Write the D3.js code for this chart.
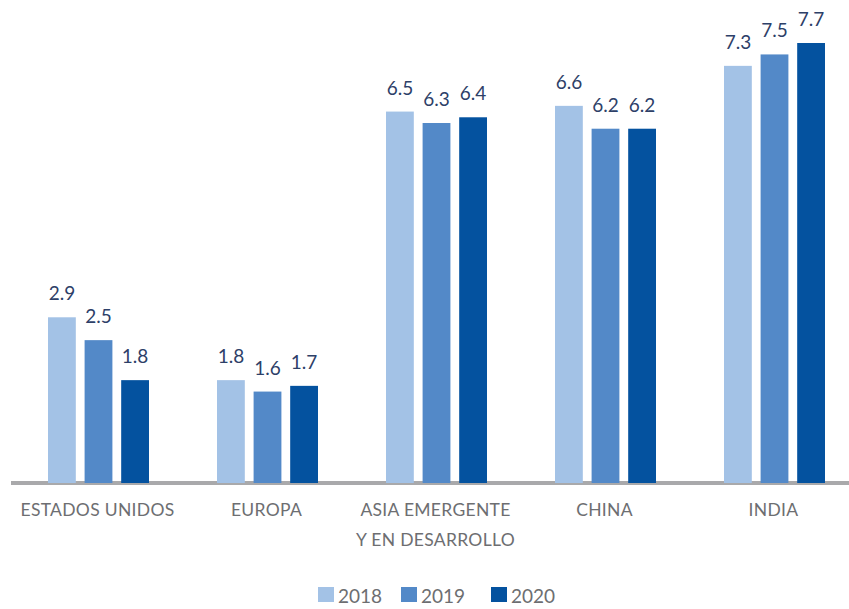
<!DOCTYPE html>
<html>
<head>
<meta charset="utf-8">
<script src="https://cdn.jsdelivr.net/npm/d3@7"></script>
<style>
  body { margin: 0; background: #fff; }
  text { font-family: Lato, "Open Sans", sans-serif; }
</style>
</head>
<body>
<div id="chart"></div>
<script>
// data
var categories = ["ESTADOS UNIDOS", "EUROPA", "ASIA EMERGENTE|Y EN DESARROLLO", "CHINA", "INDIA"];
var years = ["2018", "2019", "2020"];
var v2018 = [2.9, 1.8, 6.5, 6.6, 7.3];
var v2019 = [2.5, 1.6, 6.3, 6.2, 7.5];
var v2020 = [1.8, 1.7, 6.4, 6.2, 7.7];
var colors = ["#a3c2e6", "#5389c8", "#04529f"];

var width = 849, height = 609;
var series = [v2018, v2019, v2020];

var svg = d3.select("#chart").append("svg")
  .attr("width", width)
  .attr("height", height);

// scales
var x0 = d3.scaleBand().domain(categories).range([12, 857]);
var x1 = d3.scaleBand().domain(years).range([36, 137]).paddingInner(0.24);
var y = d3.scaleLinear().domain([0, 7.7]).range([483, 43]);
var color = d3.scaleOrdinal().domain(years).range(colors);

// baseline
svg.append("line")
  .attr("x1", 11).attr("x2", 849)
  .attr("y1", 483).attr("y2", 483)
  .attr("stroke", "#a9a9ab")
  .attr("stroke-width", 4);

var rows = categories.map(function(c, i) {
  return { cat: c, vals: years.map(function(yr, j) { return { year: yr, value: series[j][i] }; }) };
});

var groups = svg.selectAll("g.grp")
  .data(rows)
  .enter().append("g")
  .attr("class", "grp")
  .attr("transform", function(d) { return "translate(" + x0(d.cat) + ",0)"; });

groups.selectAll("rect")
  .data(function(d) { return d.vals; })
  .enter().append("rect")
  .attr("x", function(d) { return x1(d.year); })
  .attr("width", x1.bandwidth())
  .attr("y", function(d) { return y(d.value); })
  .attr("height", function(d) { return y(0) - y(d.value); })
  .attr("fill", function(d) { return color(d.year); });

// value labels
groups.selectAll("text.val")
  .data(function(d) { return d.vals; })
  .enter().append("text")
  .attr("class", "val")
  .attr("x", function(d) { return x1(d.year) + x1.bandwidth() / 2; })
  .attr("y", function(d) { return y(d.value) - 17; })
  .attr("text-anchor", "middle")
  .attr("font-size", 19)
  .attr("fill", "#2d4068")
  .text(function(d) { return d.value.toFixed(1); });

// category labels
var catText = svg.selectAll("text.cat")
  .data(categories)
  .enter().append("text")
  .attr("class", "cat")
  .attr("x", function(d) { return x0(d) + x0.bandwidth() / 2; })
  .attr("y", 516)
  .attr("text-anchor", "middle")
  .attr("font-size", 17.5)
  .attr("letter-spacing", 0.3)
  .attr("fill", "#6d6e71");

catText.selectAll("tspan")
  .data(function(d) { return d.split("|"); })
  .enter().append("tspan")
  .attr("x", function() { var p = d3.select(this.parentNode).datum(); return x0(p) + x0.bandwidth() / 2 + 1; })
  .attr("dy", function(d, i) { return i === 0 ? 0 : 30; })
  .text(function(d) { return d; });

// legend
var legendX = [318, 401, 491];
var legend = svg.selectAll("g.leg")
  .data(years)
  .enter().append("g")
  .attr("class", "leg")
  .attr("transform", function(d, i) { return "translate(" + legendX[i] + ",587)"; });

legend.append("rect")
  .attr("width", 16).attr("height", 15)
  .attr("fill", function(d) { return color(d); });

legend.append("text")
  .attr("x", 20).attr("y", 16)
  .attr("font-size", 19)
  .attr("fill", "#6d6e71")
  .text(function(d) { return d; });
</script>
</body>
</html>
